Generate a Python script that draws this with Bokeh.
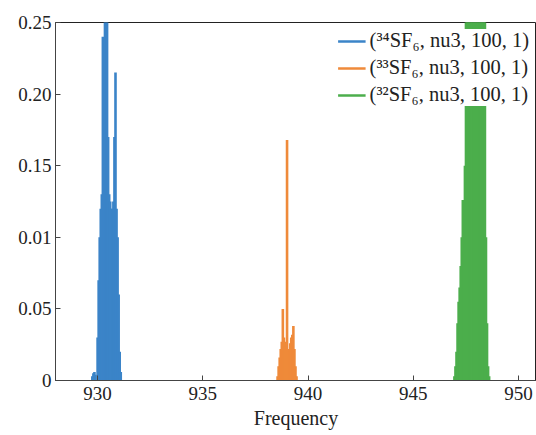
from bokeh.plotting import figure
from bokeh.models import Range1d, FixedTicker, Legend, LegendItem
from bokeh.embed import file_html
from bokeh.resources import INLINE

# ---- data ----
freq_34 = [929.75, 929.8, 929.85, 929.9, 930.0, 930.05, 930.1, 930.15, 930.2, 930.25,
           930.3, 930.35, 930.4, 930.45, 930.5, 930.55, 930.6, 930.65, 930.7, 930.75,
           930.8, 930.85, 930.9, 930.95, 931.0, 931.05, 931.1]
int_34 = [0.003, 0.005, 0.006, 0.004, 0.03, 0.07, 0.1, 0.12, 0.13, 0.24,
          0.14, 0.27, 0.14, 0.27, 0.17, 0.13, 0.125, 0.12, 0.12, 0.125,
          0.17, 0.215, 0.12, 0.1, 0.06, 0.02, 0.006]

freq_33 = [938.55, 938.6, 938.65, 938.7, 938.75, 938.8, 938.85, 938.9, 938.95, 939.0,
           939.05, 939.1, 939.15, 939.2, 939.25, 939.3, 939.35, 939.4, 939.45]
int_33 = [0.003, 0.01, 0.016, 0.022, 0.027, 0.05, 0.03, 0.027, 0.024, 0.168,
          0.022, 0.02, 0.026, 0.03, 0.032, 0.038, 0.022, 0.01, 0.003]

freq_32 = [946.95, 947.0, 947.05, 947.1, 947.15, 947.2, 947.25, 947.3, 947.35, 947.4,
           947.45, 947.5, 947.55, 947.6, 947.65, 947.7, 947.75, 947.8, 947.85, 947.9,
           947.95, 948.0, 948.05, 948.1, 948.15, 948.2, 948.25, 948.3, 948.35, 948.4,
           948.45, 948.5, 948.55, 948.6]
int_32 = [0.003, 0.01, 0.02, 0.04, 0.055, 0.065, 0.08, 0.1, 0.126, 0.09,
          0.15, 0.3, 0.3, 0.3, 0.3, 0.3, 0.3, 0.3, 0.3, 0.3,
          0.3, 0.3, 0.3, 0.3, 0.3, 0.3, 0.3, 0.3, 0.3, 0.3,
          0.1, 0.04, 0.01, 0.003]

baseline_33 = [931.1, 946.95]

labels = ["(\u00b3\u2074SF\u2086, nu3, 100, 1)",
          "(\u00b3\u00b3SF\u2086, nu3, 100, 1)",
          "(\u00b3\u00b2SF\u2086, nu3, 100, 1)"]
colors = ["#3b84c8", "#ef8a3a", "#4cae4c"]

x_ticks = [930, 935, 940, 945, 950]
y_ticks = [0, 0.05, 0.10, 0.15, 0.20, 0.25]
y_tick_labels = ["0", "0.05", "0.01", "0.15", "0.20", "0.25"]

FONT = "Liberation Serif"

p = figure(width=536, height=435, output_backend="svg", toolbar_location=None,
           x_range=Range1d(928, 950.85), y_range=Range1d(0, 0.25),
           min_border_left=55, min_border_top=22, min_border_bottom=55,
           min_border_right=0)
p.xgrid.visible = False
p.ygrid.visible = False
p.outline_line_color = "#222222"
p.background_fill_color = "white"
p.border_fill_color = "white"

series = [(freq_34, int_34), (freq_33, int_33), (freq_32, int_32)]
renderers = []
for (fx, fy), c in zip(series, colors):
    r = p.segment(x0=fx, y0=[0] * len(fx), x1=fx, y1=fy, line_color=c, line_width=2.6)
    renderers.append(r)
p.line(x=baseline_33, y=[0, 0], line_color=colors[1], line_width=1.2)

legend = Legend(items=[LegendItem(label=l, renderers=[r]) for l, r in zip(labels, renderers)],
                location="top_right")
legend.label_text_font = FONT
legend.label_text_font_size = "20.5px"
legend.label_text_color = "#222222"
legend.background_fill_color = "white"
legend.background_fill_alpha = 1.0
legend.border_line_color = None
legend.glyph_width = 28
legend.glyph_height = 20
legend.label_height = 20
legend.label_standoff = 4
legend.spacing = 4
legend.padding = 4
legend.margin = 7
p.add_layout(legend)

for ax in (p.xaxis, p.yaxis):
    ax.major_label_text_font = FONT
    ax.major_label_text_font_size = "19px"
    ax.major_label_text_color = "#222222"
    ax.axis_line_color = "#444444"
    ax.major_tick_line_color = "#444444"
    ax.major_tick_in = 5
    ax.major_tick_out = 0
    ax.minor_tick_line_color = None

p.xaxis.ticker = FixedTicker(ticks=x_ticks)
p.yaxis.ticker = FixedTicker(ticks=y_ticks)
p.yaxis.major_label_overrides = {t: s for t, s in zip(y_ticks, y_tick_labels)}
p.xaxis.major_label_overrides = {t: str(t) for t in x_ticks}
p.yaxis.major_label_standoff = 4
p.xaxis.major_label_standoff = 6

p.xaxis.axis_label = "Frequency"
p.xaxis.axis_label_text_font = FONT
p.xaxis.axis_label_text_font_size = "20px"
p.xaxis.axis_label_text_font_style = "normal"
p.xaxis.axis_label_text_color = "#222222"
p.xaxis.axis_label_standoff = 4

open("out.html", "w").write(file_html(p, INLINE))
